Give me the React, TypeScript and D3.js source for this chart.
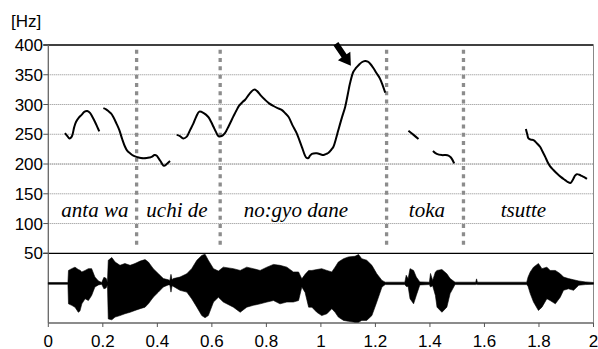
import React from 'react';
import { scaleLinear, line, area, curveCatmullRom, curveLinear, range } from 'd3';

// pitch contour (time in s, F0 in Hz), one array per voiced stretch
const antaWa = [
	[0.061, 252], [0.07, 247], [0.077, 243], [0.086, 246], [0.095, 262], [0.102, 271], [0.112, 278],
	[0.123, 283], [0.133, 288], [0.143, 289], [0.153, 286], [0.162, 279], [0.171, 271], [0.18, 262], [0.187, 255],
];
const waUchi = [
	[0.202, 294], [0.212, 292], [0.22, 289], [0.23, 285], [0.2385, 279], [0.25, 268], [0.2606, 257],
	[0.271, 242], [0.2815, 229], [0.29, 222], [0.3, 218], [0.312, 214], [0.3244, 212], [0.34, 210],
	[0.361, 210], [0.372, 211], [0.379, 212], [0.39, 215], [0.398, 214], [0.404, 210], [0.41, 206],
	[0.418, 200], [0.4246, 197], [0.4345, 200], [0.4466, 205],
];
const deNogyo = [
	[0.471, 249], [0.483, 247], [0.495, 243], [0.508, 246], [0.52, 257], [0.532, 268], [0.543, 280],
	[0.554, 288], [0.569, 286], [0.587, 279], [0.597, 271], [0.6055, 263], [0.615, 254], [0.624, 247],
	[0.636, 247], [0.648, 252], [0.662, 264], [0.679, 280], [0.69, 290], [0.7, 298], [0.712, 304],
	[0.722, 308], [0.738, 318], [0.755, 325], [0.765, 323], [0.78, 315], [0.795, 308], [0.81, 302],
	[0.826, 297.5], [0.841, 294], [0.856, 291], [0.87, 285], [0.881, 279.5], [0.896, 265], [0.911, 252],
	[0.93, 229], [0.946, 211], [0.954, 210], [0.96, 214], [0.967, 217], [0.985, 218], [1.0, 216],
	[1.009, 215], [1.02, 217], [1.028, 219], [1.038, 224], [1.046, 229], [1.055, 242], [1.064, 257],
	[1.077, 278], [1.089, 296], [1.099, 318], [1.107, 336], [1.119, 355], [1.128, 361], [1.138, 366],
	[1.15, 371], [1.162, 373], [1.172, 372], [1.18, 369], [1.193, 361], [1.205, 352], [1.215, 345],
	[1.2235, 336], [1.236, 320],
];
const tokaA = [[1.321, 256], [1.34, 249], [1.358, 242]];
const tokaB = [[1.411, 222], [1.425, 217], [1.444, 215], [1.458, 215], [1.468, 214], [1.477, 211], [1.489, 201]];
const tsutte = [
	[1.752, 259], [1.757, 250], [1.7615, 243], [1.77, 241], [1.78, 240], [1.792, 235], [1.804, 229],
	[1.813, 221], [1.823, 212], [1.832, 203], [1.841, 196], [1.853, 190], [1.866, 184], [1.881, 178],
	[1.896, 173], [1.905, 170], [1.915, 168], [1.921, 171], [1.927, 176], [1.933, 181], [1.939, 183],
	[1.948, 182], [1.957, 180], [1.966, 178], [1.976, 175],
];
const contours = [antaWa, waUchi, deNogyo, tokaA, tokaB, tsutte];

const boundaries = [0.324, 0.6305, 1.241, 1.523];
const words = ['anta wa', 'uchi de', 'no:gyo dane', 'toka', 'tsutte'];
const wordTimes = [0.171, 0.472, 0.908, 1.389, 1.743];

const hzTicks = [400, 350, 300, 250, 200, 150, 100, 50];
const timeTicks = [0, 0.2, 0.4, 0.6, 0.8, 1, 1.2, 1.4, 1.6, 1.8, 2];

// arrow pointing at the peak: [time, Hz] of tail and tip
const arrowTail = [1.055, 402];
const arrowTip = [1.11, 365];

// waveform envelope (relative amplitude)
const waveT = [
	0, 0.072, 0.074, 0.086, 0.098, 0.11, 0.116, 0.123, 0.135, 0.147, 0.159, 0.171, 0.184, 0.196, 0.204,
	0.212, 0.217, 0.22, 0.233, 0.245, 0.263, 0.281, 0.3, 0.318, 0.337, 0.355, 0.367, 0.385, 0.404, 0.422,
	0.44, 0.446, 0.45, 0.454, 0.459, 0.483, 0.508, 0.526, 0.545, 0.563, 0.575, 0.587, 0.606, 0.624, 0.642,
	0.679, 0.704, 0.728, 0.752, 0.777, 0.802, 0.826, 0.85, 0.875, 0.899, 0.918, 0.93, 0.942, 0.955, 0.967,
	0.985, 1.003, 1.022, 1.04, 1.052, 1.064, 1.083, 1.101, 1.125, 1.138, 1.15, 1.168, 1.187, 1.205, 1.224,
	1.236, 1.308, 1.313, 1.32, 1.327, 1.34, 1.35, 1.363, 1.398, 1.402, 1.41, 1.42, 1.426, 1.444, 1.462,
	1.474, 1.492, 1.568, 1.571, 1.574, 1.755, 1.76, 1.768, 1.78, 1.798, 1.811, 1.829, 1.841, 1.86, 1.878,
	1.89, 1.908, 1.927, 1.946, 1.97, 2,
];
const waveTop = [
	0.03, 0.03, 0.43, 0.49, 0.54, 0.46, 0.44, 0.38, 0.43, 0.49, 0.49, 0.21, 0.08, 0.03, 0.2,
	0.17, 0.05, 0.77, 0.86, 0.71, 0.6, 0.66, 0.6, 0.66, 0.74, 0.79, 0.71, 0.49, 0.32, 0.16,
	0.12, 0.1, 0.3, 0.12, 0.16, 0.21, 0.32, 0.49, 0.77, 0.93, 0.97, 0.77, 0.49, 0.41, 0.54,
	0.49, 0.43, 0.54, 0.49, 0.43, 0.54, 0.63, 0.6, 0.54, 0.38, 0.38, 0.15, 0.3, 0.43, 0.43,
	0.46, 0.49, 0.43, 0.38, 0.54, 0.71, 0.82, 0.88, 0.9, 0.96, 0.82, 0.77, 0.6, 0.32, 0.1,
	0.04, 0.04, 0.27, 0.15, 0.49, 0.43, 0.21, 0.05, 0.04, 0.33, 0.1, 0.38, 0.43, 0.46, 0.32,
	0.16, 0.04, 0.04, 0.15, 0.04, 0.04, 0.21, 0.38, 0.54, 0.66, 0.49, 0.54, 0.43, 0.43, 0.32,
	0.21, 0.16, 0.12, 0.08, 0.05, 0.03,
];
const waveBottom = [
	-0.03, -0.03, -0.68, -0.73, -0.79, -0.96, -0.92, -0.68, -0.51, -0.57, -0.4, -0.12, -0.05, -0.03, -0.18,
	-0.15, -0.05, -1.18, -1.21, -1.12, -1.07, -1.01, -0.96, -0.9, -0.84, -0.79, -0.68, -0.46, -0.29, -0.12,
	-0.05, -0.05, -0.29, -0.08, -0.1, -0.23, -0.29, -0.51, -0.79, -1.07, -1.14, -1.07, -0.62, -0.46, -0.62,
	-0.79, -0.96, -0.79, -0.73, -0.68, -0.62, -0.57, -0.68, -0.62, -0.62, -0.57, -0.12, -0.3, -0.79, -0.79,
	-0.96, -1.07, -1.01, -0.84, -0.96, -1.12, -1.23, -1.26, -1.29, -1.29, -1.23, -1.23, -1.07, -0.62, -0.12,
	-0.04, -0.04, -0.1, -0.1, -0.51, -0.68, -0.4, -0.05, -0.04, -0.12, -0.08, -0.4, -0.79, -0.96, -0.79,
	-0.34, -0.04, -0.04, -0.03, -0.04, -0.04, -0.1, -0.34, -0.62, -0.9, -0.79, -0.51, -0.57, -0.68, -0.46,
	-0.23, -0.18, -0.23, -0.06, -0.04, -0.03,
];

const W = 598;
const H = 349;
const left = 48.3;
const right = 593.5;
const top = 45;
const bottom = 323;
const sans = "'Liberation Sans', Arial, sans-serif";
const serif = "'Liberation Serif', 'Times New Roman', serif";

export default function App() {
	const x = scaleLinear().domain([0, 2]).range([left, right]);
	const y = scaleLinear().domain([50, 400]).range([253.3, top]);
	const amp = scaleLinear().domain([-1.3, 1]).range([bottom - 0.5, 253.3]);

	const f0Line = line<number[]>()
		.x((d) => x(d[0]))
		.y((d) => y(d[1]))
		.curve(curveCatmullRom);

	const wave = area<number>()
		.x((i) => x(waveT[i]))
		.y0((i) => amp(waveBottom[i]))
		.y1((i) => amp(waveTop[i]))
		.curve(curveLinear);

	// block arrow
	const [tx, ty] = [x(arrowTail[0]), y(arrowTail[1])];
	const [px, py] = [x(arrowTip[0]), y(arrowTip[1])];
	const len = Math.hypot(px - tx, py - ty);
	const ux = (px - tx) / len;
	const uy = (py - ty) / len;
	const nx = -uy;
	const ny = ux;
	const headL = 12;
	const headW = 7.5;
	const shaftW = 3;
	const bx = px - ux * headL;
	const by = py - uy * headL;
	const arrowPts = [
		[tx + nx * shaftW, ty + ny * shaftW],
		[bx + nx * shaftW, by + ny * shaftW],
		[bx + nx * headW, by + ny * headW],
		[px, py],
		[bx - nx * headW, by - ny * headW],
		[bx - nx * shaftW, by - ny * shaftW],
		[tx - nx * shaftW, ty - ny * shaftW],
	];

	return (
		<svg
			width={W}
			height={H}
			style={{ position: 'absolute', left: 0, top: 0, background: '#fff' }}>
			{/* grid */}
			{hzTicks
				.filter((v) => v !== 400 && v !== 50)
				.map((v) => (
					<line
						key={'g' + v}
						x1={left}
						x2={right}
						y1={y(v)}
						y2={y(v)}
						stroke={v === 200 ? '#444' : '#8a8a8a'}
						strokeWidth={1}
						strokeDasharray="1,1"
					/>
				))}

			{/* word boundaries */}
			{boundaries.map((b) => (
				<line
					key={'b' + b}
					x1={x(b)}
					x2={x(b)}
					y1={y(392)}
					y2={y(58)}
					stroke="#8c8c8c"
					strokeWidth={3.3}
					strokeDasharray="4,4.3"
				/>
			))}

			{/* frame */}
			<line x1={left - 5} x2={right} y1={top} y2={top} stroke="#000" strokeWidth={1.3} />
			<line x1={left - 5} x2={right} y1={y(50)} y2={y(50)} stroke="#000" strokeWidth={1.3} />
			<line x1={left} x2={left} y1={top} y2={bottom} stroke="#666" strokeWidth={1.3} />
			<line x1={right} x2={right} y1={top} y2={bottom} stroke="#888" strokeWidth={1} />
			<line x1={left} x2={right} y1={bottom} y2={bottom} stroke="#666" strokeWidth={1.3} />

			{/* y ticks */}
			{hzTicks.map((v) => (
				<g key={'y' + v}>
					<line x1={left - 5} x2={left} y1={y(v)} y2={y(v)} stroke="#555" />
					<text
						x={43}
						y={y(v)}
						dy="0.36em"
						textAnchor="end"
						style={{ fontFamily: sans, fontSize: 17 }}>
						{v}
					</text>
				</g>
			))}
			<text x={11} y={27} style={{ fontFamily: sans, fontSize: 17 }}>
				[Hz]
			</text>

			{/* x ticks */}
			{timeTicks.map((t) => (
				<g key={'x' + t}>
					<line x1={x(t)} x2={x(t)} y1={bottom} y2={bottom + 4} stroke="#555" />
					<text
						x={x(t)}
						y={346.5}
						textAnchor="middle"
						style={{ fontFamily: sans, fontSize: 17 }}>
						{t}
					</text>
				</g>
			))}

			{/* waveform */}
			<path d={wave(range(waveT.length)) || ''} fill="#000" stroke="#000" strokeWidth={0.6} />

			{/* F0 contours */}
			{contours.map((c, i) => (
				<path key={'c' + i} d={f0Line(c) || ''} fill="none" stroke="#000" strokeWidth={2} />
			))}

			{/* word labels */}
			{words.map((w, i) => (
				<text
					key={w}
					x={x(wordTimes[i])}
					y={216.5}
					textAnchor="middle"
					style={{ fontFamily: serif, fontStyle: 'italic', fontSize: 21 }}>
					{w}
				</text>
			))}

			<polygon points={arrowPts.map((p) => p.join(',')).join(' ')} fill="#000" />
		</svg>
	);
}
